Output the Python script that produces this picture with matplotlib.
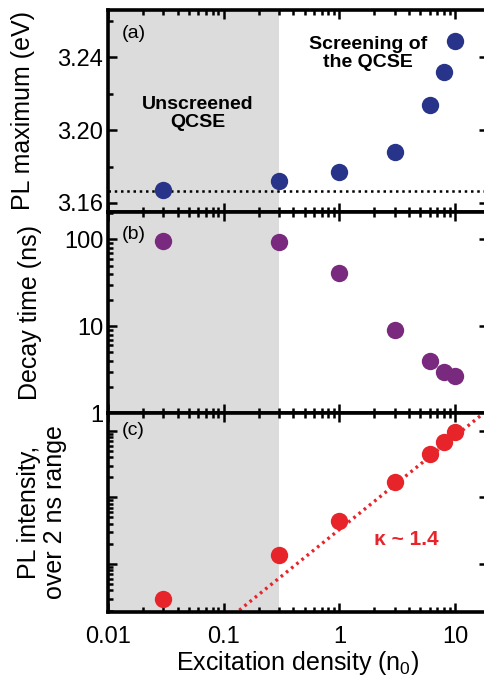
import numpy as np
import matplotlib
matplotlib.use("Agg")
import matplotlib.pyplot as plt
from matplotlib.ticker import LogLocator, NullFormatter, FixedLocator

plt.rcParams['font.family'] = ['Liberation Sans', 'DejaVu Sans']
plt.rcParams['mathtext.fontset'] = 'custom'
plt.rcParams['mathtext.rm'] = 'Liberation Sans'

# ---- data ----
density = [0.03, 0.3, 1, 3, 6, 8, 10]
pl_max = [3.167, 3.172, 3.177, 3.188, 3.214, 3.232, 3.249]
pl_ref = 3.1667
decay = [97, 93, 41, 9.1, 4.0, 2.95, 2.7]
intensity = [0.30, 1.38, 4.39, 17.2, 45, 69, 97]
fit_x = [0.1, 22]
fit_y = [0.131, 251]
kappa_label = "κ ~ 1.4"
shade_range = [0.01, 0.3]
xticks = [0.01, 0.1, 1, 10]
xticklabels = ["0.01", "0.1", "1", "10"]

c_a = '#283489'
c_b = '#7a2a7e'
c_c = '#e8242b'
shade = '#dcdcdc'

fig = plt.figure(figsize=(4.85, 6.77), dpi=100)
L, R = 108/485, 488/485
tops = [10, 212, 413]
bots = [212, 413, 612]
axes = []
for t, b in zip(tops, bots):
    ax = fig.add_axes([L, 1 - b/677, R - L, (b - t)/677])
    axes.append(ax)
ax_a, ax_b, ax_c = axes

tick_fs = 17
for ax in axes:
    ax.set_xscale('log')
    ax.set_xlim(0.01, 19.2)
    ax.axvspan(shade_range[0], shade_range[1], color=shade, lw=0, zorder=0)
    for s in ax.spines.values():
        s.set_linewidth(2.6)
    ax.tick_params(which='both', direction='in', top=True, right=True, width=1.8, labelsize=tick_fs)
    ax.tick_params(which='major', length=6.5)
    ax.tick_params(which='minor', length=3.5)
    ax.tick_params(axis='y', which='minor', right=False)
    ax.xaxis.set_major_locator(FixedLocator(xticks))
    ax.xaxis.set_minor_locator(LogLocator(base=10, subs=np.arange(2, 10), numticks=20))
    ax.xaxis.set_minor_formatter(NullFormatter())
    ax.set_xticklabels([])

ms = 12.5
# (a)
ax_a.axhline(pl_ref, color='black', ls=(0, (1, 1.5)), lw=1.8, zorder=1)
ax_a.plot(density, pl_max, 'o', color=c_a, ms=ms, mec='none', zorder=3)
ax_a.set_ylim(3.155, 3.266)
ax_a.set_yticks([3.16, 3.20, 3.24])
ax_a.set_yticklabels(['3.16', '3.20', '3.24'])
ax_a.yaxis.set_minor_locator(FixedLocator([3.18, 3.22, 3.26]))
ax_a.set_ylabel('PL maximum (eV)', fontsize=18, labelpad=16)
ax_a.text(0.0132, 3.253, '(a)', fontsize=14, va='center')
ax_a.text(0.06, 3.209, 'Unscreened\nQCSE', fontsize=14, fontweight='bold', ha='center', va='center', linespacing=1.05)
ax_a.text(1.77, 3.242, 'Screening of\nthe QCSE', fontsize=14, fontweight='bold', ha='center', va='center', linespacing=1.05)

# (b)
ax_b.set_yscale('log')
ax_b.plot(density, decay, 'o', color=c_b, ms=ms, mec='none', zorder=3)
ax_b.set_ylim(1, 207)
ax_b.set_yticks([1, 10, 100])
ax_b.set_yticklabels(['1', '10', '100'])
ax_b.yaxis.set_minor_locator(LogLocator(base=10, subs=np.arange(2, 10), numticks=20))
ax_b.yaxis.set_minor_formatter(NullFormatter())
ax_b.set_ylabel('Decay time (ns)', fontsize=18, labelpad=16)
ax_b.text(0.0132, 115, '(b)', fontsize=14, va='center')

# (c)
ax_c.set_yscale('log')
ax_c.plot(fit_x, fit_y, color=c_c, ls=(0, (0.8, 1.2)), lw=2.4, zorder=2)
ax_c.plot(density, intensity, 'o', color=c_c, ms=ms, mec='none', zorder=3)
ax_c.set_ylim(0.19, 185)
ax_c.yaxis.set_major_locator(FixedLocator([1, 10, 100]))
ax_c.yaxis.set_minor_locator(LogLocator(base=10, subs=np.arange(2, 10), numticks=20))
ax_c.yaxis.set_minor_formatter(NullFormatter())
ax_c.set_yticklabels([])
ax_c.set_ylabel('PL intensity,\nover 2 ns range', fontsize=18, labelpad=26, linespacing=1.1)
ax_c.text(0.0132, 100, '(c)', fontsize=14, va='center')
ax_c.text(3.77, 2.33, kappa_label, fontsize=15, fontweight='bold', color=c_c, ha='center', va='center')
ax_c.set_xticklabels(xticklabels)
ax_c.tick_params(axis='x', pad=10)
ax_c.set_xlabel('Excitation density (n$_\\mathregular{0}$)', fontsize=18, labelpad=1)

fig.savefig('out.png', dpi=100)
